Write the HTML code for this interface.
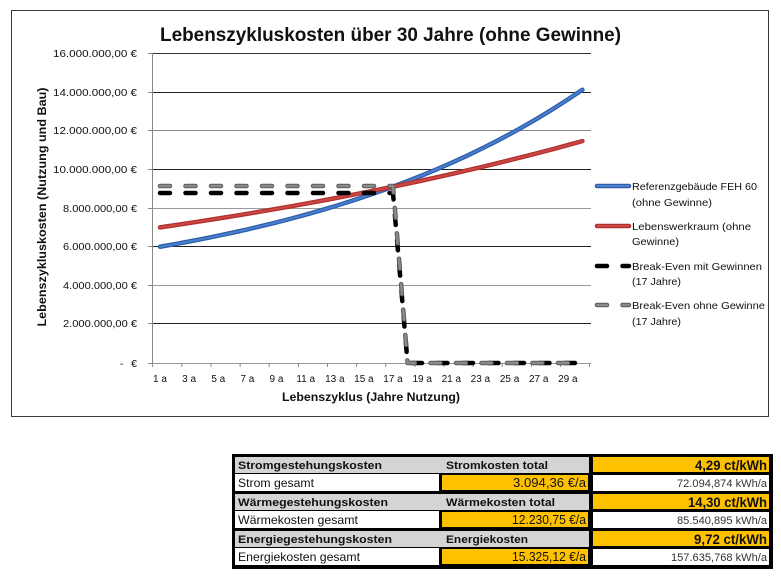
<!DOCTYPE html>
<html><head><meta charset="utf-8"><style>
html,body{margin:0;padding:0;background:#fff;}
svg{display:block;}
text{font-family:"Liberation Sans",Arial,sans-serif;}
</style></head><body>
<svg width="781" height="580" viewBox="0 0 781 580" xmlns="http://www.w3.org/2000/svg">
<rect width="781" height="580" fill="#fff"/>
<!-- chart frame -->
<rect x="11.5" y="10.5" width="757" height="406" fill="#fff" stroke="#3a3a3a" stroke-width="1"/>
<!-- title -->
<text x="160" y="41" font-size="19.5" font-weight="bold" fill="#111" textLength="461" lengthAdjust="spacingAndGlyphs">Lebenszykluskosten über 30 Jahre (ohne Gewinne)</text>
<!-- gridlines -->
<g stroke-width="1">
<line x1="152" y1="53.5" x2="591" y2="53.5" stroke="#333"/>
<line x1="152" y1="92.5" x2="591" y2="92.5" stroke="#222"/>
<line x1="152" y1="130.5" x2="591" y2="130.5" stroke="#888"/>
<line x1="152" y1="169.5" x2="591" y2="169.5" stroke="#222"/>
<line x1="152" y1="208.5" x2="591" y2="208.5" stroke="#999"/>
<line x1="152" y1="246.5" x2="591" y2="246.5" stroke="#222"/>
<line x1="152" y1="285.5" x2="591" y2="285.5" stroke="#999"/>
<line x1="152" y1="323.5" x2="591" y2="323.5" stroke="#222"/>
<line x1="152" y1="363.5" x2="591" y2="363.5" stroke="#999"/>
</g>
<!-- y axis -->
<line x1="152.5" y1="53" x2="152.5" y2="364" stroke="#888"/>
<g stroke="#888">
<line x1="148" y1="53.5" x2="152" y2="53.5"/><line x1="148" y1="92.5" x2="152" y2="92.5"/>
<line x1="148" y1="130.5" x2="152" y2="130.5"/><line x1="148" y1="169.5" x2="152" y2="169.5"/>
<line x1="148" y1="208.5" x2="152" y2="208.5"/><line x1="148" y1="246.5" x2="152" y2="246.5"/>
<line x1="148" y1="285.5" x2="152" y2="285.5"/><line x1="148" y1="323.5" x2="152" y2="323.5"/>
<line x1="148" y1="363.5" x2="152" y2="363.5"/>
</g>
<!-- x ticks -->
<g stroke="#888">
<line x1="152.7" y1="363" x2="152.7" y2="367"/><line x1="181.8" y1="363" x2="181.8" y2="367"/>
<line x1="211" y1="363" x2="211" y2="367"/><line x1="240.1" y1="363" x2="240.1" y2="367"/>
<line x1="269.2" y1="363" x2="269.2" y2="367"/><line x1="298.4" y1="363" x2="298.4" y2="367"/>
<line x1="327.5" y1="363" x2="327.5" y2="367"/><line x1="356.6" y1="363" x2="356.6" y2="367"/>
<line x1="385.7" y1="363" x2="385.7" y2="367"/><line x1="414.9" y1="363" x2="414.9" y2="367"/>
<line x1="444" y1="363" x2="444" y2="367"/><line x1="473.1" y1="363" x2="473.1" y2="367"/>
<line x1="502.3" y1="363" x2="502.3" y2="367"/><line x1="531.4" y1="363" x2="531.4" y2="367"/>
<line x1="560.5" y1="363" x2="560.5" y2="367"/><line x1="589.6" y1="363" x2="589.6" y2="367"/>
</g>
<!-- y tick labels -->
<g font-size="10.5" fill="#111">
<text x="53" y="57" textLength="84" lengthAdjust="spacingAndGlyphs">16.000.000,00 €</text>
<text x="53" y="96" textLength="84" lengthAdjust="spacingAndGlyphs">14.000.000,00 €</text>
<text x="53" y="134" textLength="84" lengthAdjust="spacingAndGlyphs">12.000.000,00 €</text>
<text x="53" y="173" textLength="84" lengthAdjust="spacingAndGlyphs">10.000.000,00 €</text>
<text x="63" y="212" textLength="74" lengthAdjust="spacingAndGlyphs">8.000.000,00 €</text>
<text x="63" y="250" textLength="74" lengthAdjust="spacingAndGlyphs">6.000.000,00 €</text>
<text x="63" y="289" textLength="74" lengthAdjust="spacingAndGlyphs">4.000.000,00 €</text>
<text x="63" y="327" textLength="74" lengthAdjust="spacingAndGlyphs">2.000.000,00 €</text>
<text x="120" y="367">-</text>
<text x="137" y="367" text-anchor="end">€</text>
</g>
<!-- y axis title -->
<text transform="translate(46,207) rotate(-90)" x="0" y="0" text-anchor="middle" font-size="11.5" font-weight="bold" fill="#111" textLength="239" lengthAdjust="spacingAndGlyphs">Lebenszykluskosten (Nutzung und Bau)</text>
<!-- x labels -->
<g font-size="10" fill="#111" text-anchor="middle">
<text x="160" y="382">1 a</text><text x="189.1" y="382">3 a</text><text x="218.3" y="382">5 a</text>
<text x="247.4" y="382">7 a</text><text x="276.5" y="382">9 a</text><text x="305.7" y="382">11 a</text>
<text x="334.8" y="382">13 a</text><text x="363.9" y="382">15 a</text><text x="393" y="382">17 a</text>
<text x="422.2" y="382">19 a</text><text x="451.3" y="382">21 a</text><text x="480.4" y="382">23 a</text>
<text x="509.6" y="382">25 a</text><text x="538.7" y="382">27 a</text><text x="567.8" y="382">29 a</text>
</g>
<text x="282" y="401" font-size="12" font-weight="bold" fill="#111" textLength="178" lengthAdjust="spacingAndGlyphs">Lebenszyklus (Jahre Nutzung)</text>
<!-- series -->
<polyline fill="none" stroke="#2f5ea8" stroke-width="4.5" stroke-linecap="round" stroke-linejoin="round" points="160,246.75 174.57,244.19 189.13,241.50 203.70,238.69 218.26,235.73 232.83,232.63 247.39,229.39 261.96,225.96 276.52,222.38 291.09,218.62 305.65,214.68 320.22,210.54 334.78,206.22 349.35,201.66 363.91,196.90 378.48,191.90 393.04,186.65 407.61,181.13 422.17,175.35 436.74,169.29 451.30,162.93 465.87,156.27 480.43,149.27 495.00,141.93 509.56,134.24 524.13,126.16 538.69,117.69 553.26,108.80 567.82,99.48 582.39,89.70"/>
<polyline fill="none" stroke="#4a7fd0" stroke-width="2" stroke-linecap="round" stroke-linejoin="round" points="160,246.75 174.57,244.19 189.13,241.50 203.70,238.69 218.26,235.73 232.83,232.63 247.39,229.39 261.96,225.96 276.52,222.38 291.09,218.62 305.65,214.68 320.22,210.54 334.78,206.22 349.35,201.66 363.91,196.90 378.48,191.90 393.04,186.65 407.61,181.13 422.17,175.35 436.74,169.29 451.30,162.93 465.87,156.27 480.43,149.27 495.00,141.93 509.56,134.24 524.13,126.16 538.69,117.69 553.26,108.80 567.82,99.48 582.39,89.70"/>
<polyline fill="none" stroke="#b0302e" stroke-width="4.5" stroke-linecap="round" stroke-linejoin="round" points="160,227.37 174.57,225.24 189.13,223.04 203.70,220.81 218.26,218.52 232.83,216.18 247.39,213.79 261.96,211.33 276.52,208.83 291.09,206.28 305.65,203.66 320.22,200.99 334.78,198.25 349.35,195.46 363.91,192.60 378.48,189.67 393.04,186.69 407.61,183.63 422.17,180.51 436.74,177.31 451.30,174.04 465.87,170.70 480.43,167.29 495.00,163.79 509.56,160.22 524.13,156.56 538.69,152.84 553.26,149.02 567.82,145.11 582.39,141.12"/>
<polyline fill="none" stroke="#cc4744" stroke-width="2" stroke-linecap="round" stroke-linejoin="round" points="160,227.37 174.57,225.24 189.13,223.04 203.70,220.81 218.26,218.52 232.83,216.18 247.39,213.79 261.96,211.33 276.52,208.83 291.09,206.28 305.65,203.66 320.22,200.99 334.78,198.25 349.35,195.46 363.91,192.60 378.48,189.67 393.04,186.69 407.61,183.63 422.17,180.51 436.74,177.31 451.30,174.04 465.87,170.70 480.43,167.29 495.00,163.79 509.56,160.22 524.13,156.56 538.69,152.84 553.26,149.02 567.82,145.11 582.39,141.12"/>
<path d="M160,193 H393 L407.6,363 H582.4" fill="none" stroke="#000" stroke-width="4.5" stroke-linecap="round" stroke-linejoin="round" stroke-dasharray="10 15.5"/>
<path d="M160,186 H393 L407.6,363 H582.4" fill="none" stroke="#5a5a5a" stroke-width="4.5" stroke-linecap="round" stroke-linejoin="round" stroke-dasharray="10 15.5"/>
<path d="M160,186 H393 L407.6,363 H582.4" fill="none" stroke="#8a8a8a" stroke-width="2.5" stroke-linecap="round" stroke-linejoin="round" stroke-dasharray="10 15.5"/>
<!-- legend -->
<line x1="597" y1="186" x2="629" y2="186" stroke="#2f5ea8" stroke-width="4.5" stroke-linecap="round"/>
<line x1="597" y1="186" x2="629" y2="186" stroke="#4a7fd0" stroke-width="2" stroke-linecap="round"/>
<line x1="597" y1="226" x2="629" y2="226" stroke="#b0302e" stroke-width="4.5" stroke-linecap="round"/>
<line x1="597" y1="226" x2="629" y2="226" stroke="#cc4744" stroke-width="2" stroke-linecap="round"/>
<path d="M597,266 H629" stroke="#000" stroke-width="4.5" stroke-linecap="round" stroke-dasharray="10 15.5" fill="none"/>
<path d="M597,305 H629" stroke="#5a5a5a" stroke-width="4.5" stroke-linecap="round" stroke-dasharray="10 15.5" fill="none"/>
<path d="M597,305 H629" stroke="#8a8a8a" stroke-width="2.5" stroke-linecap="round" stroke-dasharray="10 15.5" fill="none"/>
<g font-size="10.5" fill="#111">
<text x="632" y="190" textLength="125" lengthAdjust="spacingAndGlyphs">Referenzgebäude FEH 60</text>
<text x="632" y="206" textLength="80" lengthAdjust="spacingAndGlyphs">(ohne Gewinne)</text>
<text x="632" y="230" textLength="119" lengthAdjust="spacingAndGlyphs">Lebenswerkraum (ohne</text>
<text x="632" y="245" textLength="47" lengthAdjust="spacingAndGlyphs">Gewinne)</text>
<text x="632" y="270" textLength="130" lengthAdjust="spacingAndGlyphs">Break-Even mit Gewinnen</text>
<text x="632" y="285" textLength="49" lengthAdjust="spacingAndGlyphs">(17 Jahre)</text>
<text x="632" y="309" textLength="133" lengthAdjust="spacingAndGlyphs">Break-Even ohne Gewinne</text>
<text x="632" y="325" textLength="49" lengthAdjust="spacingAndGlyphs">(17 Jahre)</text>
</g>
<!-- table -->
<rect x="232" y="454" width="541" height="115" fill="#000"/>
<g>
<!-- group 1 -->
<rect x="235" y="457" width="354" height="16" fill="#d4d4d4"/>
<rect x="593" y="457" width="176" height="15" fill="#ffc000"/>
<rect x="235" y="474" width="204" height="17" fill="#fff"/>
<rect x="442" y="475" width="146" height="15" fill="#ffc000"/>
<rect x="593" y="475" width="176" height="16" fill="#fff"/>
<!-- group 2 -->
<rect x="235" y="494" width="354" height="16" fill="#d4d4d4"/>
<rect x="593" y="494" width="176" height="15" fill="#ffc000"/>
<rect x="235" y="511" width="204" height="17" fill="#fff"/>
<rect x="442" y="512" width="146" height="15" fill="#ffc000"/>
<rect x="593" y="512" width="176" height="16" fill="#fff"/>
<!-- group 3 -->
<rect x="235" y="531" width="354" height="16" fill="#d4d4d4"/>
<rect x="593" y="531" width="176" height="15" fill="#ffc000"/>
<rect x="235" y="548" width="204" height="17" fill="#fff"/>
<rect x="442" y="549" width="146" height="15" fill="#ffc000"/>
<rect x="593" y="549" width="176" height="16" fill="#fff"/>
</g>
<g fill="#111">
<text x="238" y="469" font-size="11" font-weight="bold" textLength="144" lengthAdjust="spacingAndGlyphs">Stromgestehungskosten</text>
<text x="446" y="469" font-size="11" font-weight="bold" textLength="102" lengthAdjust="spacingAndGlyphs">Stromkosten total</text>
<text x="238" y="487" font-size="12" textLength="76" lengthAdjust="spacingAndGlyphs">Strom gesamt</text>
<text x="238" y="506" font-size="11" font-weight="bold" textLength="150" lengthAdjust="spacingAndGlyphs">Wärmegestehungskosten</text>
<text x="446" y="506" font-size="11" font-weight="bold" textLength="109" lengthAdjust="spacingAndGlyphs">Wärmekosten total</text>
<text x="238" y="524" font-size="12" textLength="120" lengthAdjust="spacingAndGlyphs">Wärmekosten gesamt</text>
<text x="238" y="543" font-size="11" font-weight="bold" textLength="154" lengthAdjust="spacingAndGlyphs">Energiegestehungskosten</text>
<text x="446" y="543" font-size="11" font-weight="bold" textLength="82" lengthAdjust="spacingAndGlyphs">Energiekosten</text>
<text x="238" y="561" font-size="12" textLength="122" lengthAdjust="spacingAndGlyphs">Energiekosten gesamt</text>

<text x="513" y="487" font-size="13" textLength="73" lengthAdjust="spacingAndGlyphs">3.094,36 €/a</text>
<text x="512" y="524" font-size="13" textLength="74" lengthAdjust="spacingAndGlyphs">12.230,75 €/a</text>
<text x="512" y="561" font-size="13" textLength="74" lengthAdjust="spacingAndGlyphs">15.325,12 €/a</text>

<text x="695" y="470" font-size="14" font-weight="bold" textLength="72" lengthAdjust="spacingAndGlyphs">4,29 ct/kWh</text>
<text x="688" y="507" font-size="14" font-weight="bold" textLength="79" lengthAdjust="spacingAndGlyphs">14,30 ct/kWh</text>
<text x="694" y="544" font-size="14" font-weight="bold" textLength="73" lengthAdjust="spacingAndGlyphs">9,72 ct/kWh</text>

<text x="677" y="487" font-size="11" fill="#333" textLength="90" lengthAdjust="spacingAndGlyphs">72.094,874 kWh/a</text>
<text x="677" y="524" font-size="11" fill="#333" textLength="90" lengthAdjust="spacingAndGlyphs">85.540,895 kWh/a</text>
<text x="671" y="561" font-size="11" fill="#333" textLength="96" lengthAdjust="spacingAndGlyphs">157.635,768 kWh/a</text>
</g>
</svg>
</body></html>
